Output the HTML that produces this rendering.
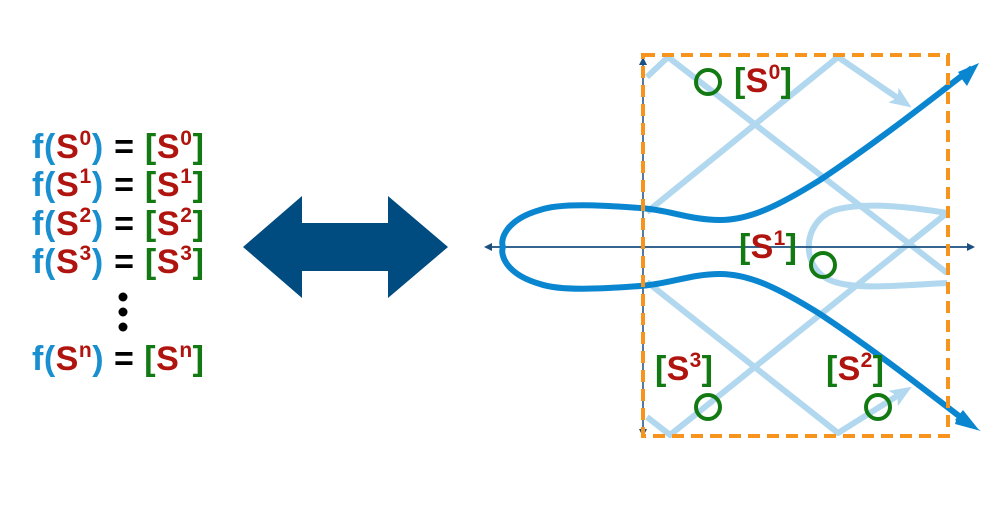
<!DOCTYPE html>
<html><head><meta charset="utf-8"><style>
html,body{margin:0;padding:0;background:#fff;width:1007px;height:508px;overflow:hidden}
svg{display:block}
text{font-family:"Liberation Sans",Arial,sans-serif;font-weight:bold}
.b{fill:#1a8fd0}.r{fill:#b0140e}.g{fill:#137a13}.k{fill:#000}
</style></head><body>
<svg width="1007" height="508" viewBox="0 0 1007 508">
<defs>
<marker id="ah" markerWidth="8" markerHeight="8" refX="6" refY="4" orient="auto" markerUnits="userSpaceOnUse"><path d="M0,0 L8,4 L0,8 Z" fill="#1a4f80"/></marker>
<marker id="lt" markerWidth="22" markerHeight="18" refX="14" refY="9" orient="auto" markerUnits="userSpaceOnUse"><path d="M0,0 L22,9 L0,18 L5,9 Z" fill="#a9d4ee"/></marker>
</defs>
<!-- left text -->
<g font-size="34">
<text x="32" y="158" textLength="172" lengthAdjust="spacing"><tspan class="b">f(</tspan><tspan class="r">S</tspan><tspan class="r" font-size="21" dy="-13">0</tspan><tspan class="b" dy="13">)</tspan><tspan class="k"> = </tspan><tspan class="g">[</tspan><tspan class="r">S</tspan><tspan class="r" font-size="21" dy="-13">0</tspan><tspan class="g" dy="13">]</tspan></text>
<text x="32" y="196" textLength="172" lengthAdjust="spacing"><tspan class="b">f(</tspan><tspan class="r">S</tspan><tspan class="r" font-size="21" dy="-13">1</tspan><tspan class="b" dy="13">)</tspan><tspan class="k"> = </tspan><tspan class="g">[</tspan><tspan class="r">S</tspan><tspan class="r" font-size="21" dy="-13">1</tspan><tspan class="g" dy="13">]</tspan></text>
<text x="32" y="235" textLength="172" lengthAdjust="spacing"><tspan class="b">f(</tspan><tspan class="r">S</tspan><tspan class="r" font-size="21" dy="-13">2</tspan><tspan class="b" dy="13">)</tspan><tspan class="k"> = </tspan><tspan class="g">[</tspan><tspan class="r">S</tspan><tspan class="r" font-size="21" dy="-13">2</tspan><tspan class="g" dy="13">]</tspan></text>
<text x="32" y="273" textLength="172" lengthAdjust="spacing"><tspan class="b">f(</tspan><tspan class="r">S</tspan><tspan class="r" font-size="21" dy="-13">3</tspan><tspan class="b" dy="13">)</tspan><tspan class="k"> = </tspan><tspan class="g">[</tspan><tspan class="r">S</tspan><tspan class="r" font-size="21" dy="-13">3</tspan><tspan class="g" dy="13">]</tspan></text>
<text x="32" y="370" textLength="172" lengthAdjust="spacing"><tspan class="b">f(</tspan><tspan class="r">S</tspan><tspan class="r" font-size="21" dy="-13">n</tspan><tspan class="b" dy="13">)</tspan><tspan class="k"> = </tspan><tspan class="g">[</tspan><tspan class="r">S</tspan><tspan class="r" font-size="21" dy="-13">n</tspan><tspan class="g" dy="13">]</tspan></text>
</g>
<circle cx="123" cy="297" r="4.5" fill="#000"/><circle cx="123" cy="312" r="4.5" fill="#000"/><circle cx="123" cy="327" r="4.5" fill="#000"/>
<!-- double arrow -->
<path d="M243,247 L302,196 L302,223 L388,223 L388,196 L448,247 L388,298 L388,271 L302,271 L302,298 Z" fill="#004c80"/>
<!-- light lines -->
<g stroke="#a9d4ee" stroke-width="6" fill="none" stroke-linejoin="round" opacity="0.9">
<path d="M647,77 L668,57 L947,273"/>
<path d="M647,212 L838,57 L905,103" marker-end="url(#lt)"/>
<path d="M647,282 L838,433 L905,391" marker-end="url(#lt)"/>
<path d="M647,417 L670,435 L947,213"/>
<path d="M947,213 C900,205 860,203 835,210 C800,222 800,272 835,282 C860,290 905,285 947,283"/>
</g>
<!-- axes -->
<line x1="486" y1="247" x2="973" y2="247" stroke="#1a4f80" stroke-width="1.5" marker-end="url(#ah)"/>
<line x1="973" y1="247" x2="486" y2="247" stroke="#1a4f80" stroke-width="1.5" marker-end="url(#ah)"/>
<line x1="643" y1="245" x2="643" y2="59" stroke="#1a4f80" stroke-width="1.5" marker-end="url(#ah)"/>
<line x1="643" y1="245" x2="643" y2="435" stroke="#1a4f80" stroke-width="1.5" marker-end="url(#ah)"/>
<!-- dark curve -->
<path d="M972,68 C930,100 880,140 820,180 C780,205 750,220 720,220 C690,220 670,210 640,208 C600,205 560,203 540,210 C505,220 500,240 503,247 C500,254 505,274 540,284 C560,291 600,289 640,286 C670,284 690,274 720,274 C750,274 780,289 820,314 C880,354 930,394 972,426" stroke="#0a86d0" stroke-width="6" fill="none"/>
<path d="M961,78 L979,63 L967,86 Z" fill="#0a86d0"/>
<path d="M958,72 L979,63 L966,83 Z" fill="#0a86d0"/>
<path d="M958,414 L981,431 L955,424 Z" fill="#0a86d0"/>
<path d="M955,420 L979,430 L963,410 Z" fill="#0a86d0"/>
<!-- dashed box -->
<rect x="643" y="55" width="305" height="381" fill="none" stroke="#f7941d" stroke-width="4" stroke-dasharray="12,7"/>
<!-- circles -->
<g fill="none" stroke="#137a13" stroke-width="4">
<circle cx="708" cy="82" r="12"/><circle cx="823" cy="265" r="12"/><circle cx="708" cy="407" r="12"/><circle cx="878" cy="407" r="12"/>
</g>
<!-- labels -->
<g font-size="34">
<text x="734" y="92" textLength="58" lengthAdjust="spacing"><tspan class="g">[</tspan><tspan class="r">S</tspan><tspan class="r" font-size="21" dy="-13">0</tspan><tspan class="g" dy="13">]</tspan></text>
<text x="739" y="258" textLength="58" lengthAdjust="spacing"><tspan class="g">[</tspan><tspan class="r">S</tspan><tspan class="r" font-size="21" dy="-13">1</tspan><tspan class="g" dy="13">]</tspan></text>
<text x="655" y="380" textLength="58" lengthAdjust="spacing"><tspan class="g">[</tspan><tspan class="r">S</tspan><tspan class="r" font-size="21" dy="-13">3</tspan><tspan class="g" dy="13">]</tspan></text>
<text x="826" y="380" textLength="58" lengthAdjust="spacing"><tspan class="g">[</tspan><tspan class="r">S</tspan><tspan class="r" font-size="21" dy="-13">2</tspan><tspan class="g" dy="13">]</tspan></text>
</g>
</svg>
</body></html>
